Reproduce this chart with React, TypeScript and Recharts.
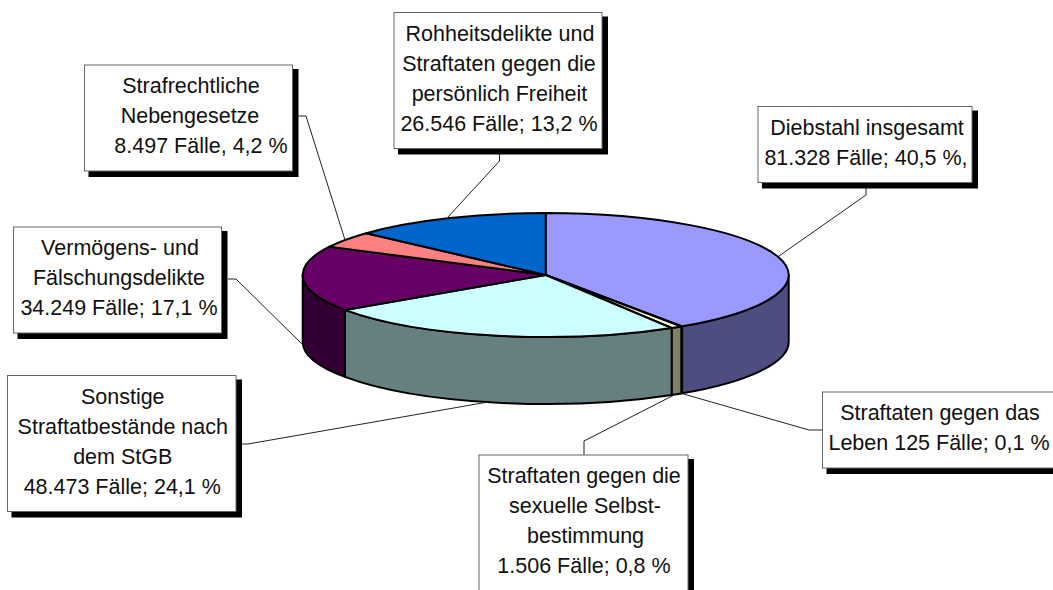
import { PieChart, Pie } from "recharts";

const categories = [
  "Diebstahl insgesamt",
  "Straftaten gegen das Leben",
  "Straftaten gegen die sexuelle Selbstbestimmung",
  "Sonstige Straftatbestände nach dem StGB",
  "Vermögens- und Fälschungsdelikte",
  "Strafrechtliche Nebengesetze",
  "Rohheitsdelikte und Straftaten gegen die persönlich Freiheit",
];
const cases = [81328, 125, 1506, 48473, 34249, 8497, 26546];
const topColors = ["#9999FF", "#993366", "#FFFFCC", "#CCFFFF", "#660066", "#FF8080", "#0066CC"];
const sideColors = ["#4D4D80", "#4D1A33", "#808066", "#668080", "#330033", "#804040", "#003366"];
const labelLines = [
  ["Diebstahl insgesamt", "81.328 Fälle; 40,5 %,"],
  ["Straftaten gegen das", "Leben 125 Fälle; 0,1 %"],
  ["Straftaten gegen die", "sexuelle Selbst-", "bestimmung", "1.506 Fälle; 0,8 %"],
  ["Sonstige", "Straftatbestände nach", "dem StGB", "48.473 Fälle; 24,1 %"],
  ["Vermögens- und", "Fälschungsdelikte", "34.249 Fälle; 17,1 %"],
  ["Strafrechtliche", "Nebengesetze", "8.497 Fälle, 4,2 %"],
  ["Rohheitsdelikte und", "Straftaten gegen die", "persönlich Freiheit", "26.546 Fälle; 13,2 %"],
];

// callout boxes
const boxes = [
  { x: 758, y: 106.5, w: 214, h: 76 },
  { x: 822.5, y: 392, w: 232, h: 76 },
  { x: 479, y: 455, w: 209, h: 136 },
  { x: 7.5, y: 375.5, w: 228.5, h: 136 },
  { x: 13.5, y: 227, w: 208, h: 106 },
  { x: 84.5, y: 65, w: 208, h: 106 },
  { x: 394, y: 12.5, w: 208, h: 136 },
];
// horizontal shift of each text line from the box centre
const lineShifts = [
  [2, 1],
  [1.5, 0.5],
  [0.5, 1.5, 2, 0.5],
  [1, 1, 1, 0.5],
  [2.5, 1.5, 1.5],
  [2.5, 1.5, 12.5],
  [2, 1, 1.5, 1],
];
// leader lines, box to pie rim
const leaders = [
  "866,188 866,195 779,256",
  "822,430 809,430 680,393",
  "584,455 584,441 678,393",
  "236,444 248,444 488,402",
  "228,279 236,279 303,345",
  "298,116 306,116 345,240",
  "499.5,154 499.5,161 448,217",
];

const data = categories.map((name, i) => ({
  name,
  value: cases[i],
  fill: topColors[i],
  side: sideColors[i],
}));

const CX = 545.7;
const CY = 275;
const RX = 243;
const RY = 62;
const DEPTH = 67;

const pt = (deg: number, dy = 0) => {
  const a = (deg * Math.PI) / 180;
  return `${CX + RX * Math.cos(a)} ${CY - RY * Math.sin(a) + dy}`;
};

// recharts hands us the angles, we squash the sector to an ellipse and add the wall
const Slice3D = (props: any) => {
  const { startAngle, endAngle, fill, side } = props;
  const large = Math.abs(startAngle - endAngle) > 180 ? 1 : 0;
  const from = Math.min(startAngle, 0);
  const to = Math.max(endAngle, -180);
  return (
    <g>
      {from > to && (
        <path
          d={`M ${pt(from)} A ${RX} ${RY} 0 0 1 ${pt(to)} L ${pt(to, DEPTH)} A ${RX} ${RY} 0 0 0 ${pt(from, DEPTH)} Z`}
          fill={side}
          stroke="#000"
          strokeWidth={2}
          strokeLinejoin="round"
        />
      )}
      <path
        d={`M ${CX} ${CY} L ${pt(startAngle)} A ${RX} ${RY} 0 ${large} 1 ${pt(endAngle)} Z`}
        fill={fill}
        stroke="#000"
        strokeWidth={2}
        strokeLinejoin="round"
      />
    </g>
  );
};

const Callout = (props: any) => {
  const i = props.index;
  const b = boxes[i];
  const mid = b.x + b.w / 2;
  return (
    <g>
      <rect x={b.x + 4} y={b.y + 4} width={b.w + 2} height={b.h + 2} fill="#000" />
      <rect x={b.x} y={b.y} width={b.w} height={b.h} fill="#fff" stroke="#666" strokeWidth={1} />
      <text
        textAnchor="middle"
        fontFamily="'Liberation Sans', Arial, sans-serif"
        fontSize={21.5}
        fill="#111"
      >
        {labelLines[i].map((line, k) => (
          <tspan key={k} x={mid + lineShifts[i][k]} y={b.y + 28 + k * 30}>
            {line}
          </tspan>
        ))}
      </text>
    </g>
  );
};

const Leader = (props: any) => (
  <polyline points={leaders[props.index]} fill="none" stroke="#222" strokeWidth={1} />
);

export default function App() {
  return (
    <div style={{ position: "absolute", left: 0, top: 0, width: 1053, height: 590, overflow: "hidden", background: "#fff" }}>
      <PieChart width={1053} height={590} margin={{ top: 0, right: 0, bottom: 0, left: 0 }}>
        <Pie
          data={data}
          dataKey="value"
          nameKey="name"
          cx={CX}
          cy={CY}
          innerRadius={0}
          outerRadius={RX}
          startAngle={90}
          endAngle={-270}
          stroke="#000"
          shape={Slice3D}
          label={Callout}
          labelLine={Leader}
          isAnimationActive={false}
        />
      </PieChart>
    </div>
  );
}
